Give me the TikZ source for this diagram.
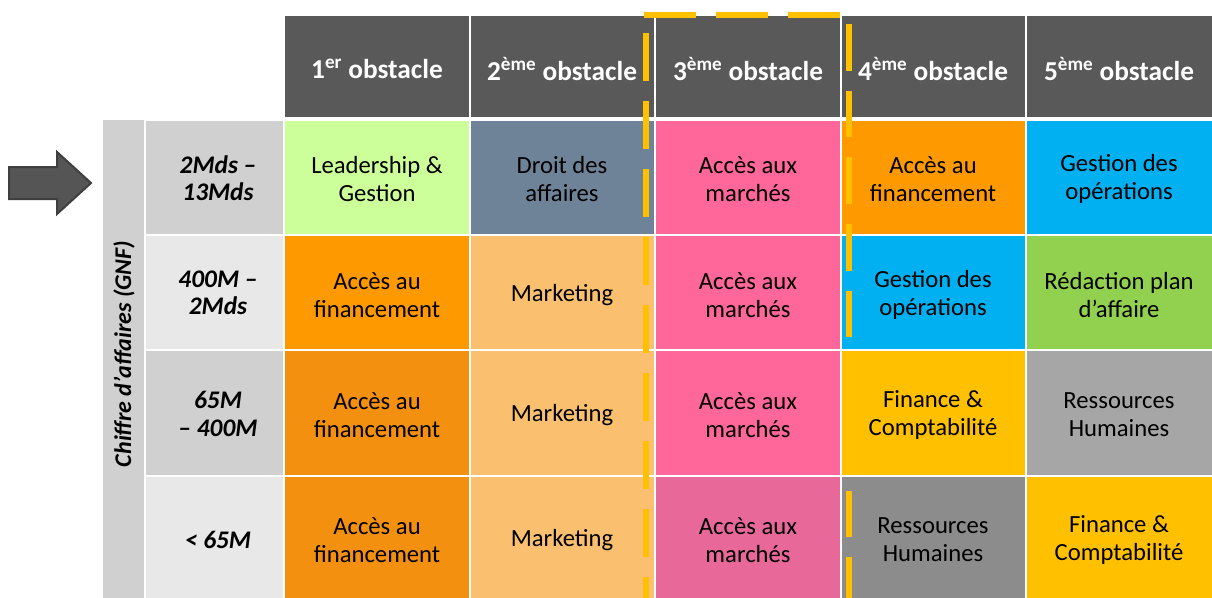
\documentclass[tikz,border=0pt]{standalone}
\usepackage{fontspec}
\setmainfont{Carlito}
\definecolor{hdr}{HTML}{595959}
\definecolor{lgreen}{HTML}{CCFF99}
\definecolor{slate}{HTML}{6F8398}
\definecolor{pink}{HTML}{FF6699}
\definecolor{pinkd}{HTML}{E8689A}
\definecolor{orng}{HTML}{FF9900}
\definecolor{orngd}{HTML}{F49010}
\definecolor{lorng}{HTML}{FAC070}
\definecolor{sky}{HTML}{00B0F0}
\definecolor{grn}{HTML}{92D050}
\definecolor{gold}{HTML}{FFC000}
\definecolor{grayA}{HTML}{A6A6A6}
\definecolor{grayB}{HTML}{8C8C8C}
\definecolor{lblA}{HTML}{D0D0D0}
\definecolor{lblB}{HTML}{E8E8E8}
\definecolor{arrowfill}{HTML}{555555}
\definecolor{arrowline}{HTML}{3F3F3F}
\begin{document}
\begin{tikzpicture}[x=0.75pt,y=-0.75pt,
  cellbox/.style={draw=white,line width=1.5pt},
  bodytxt/.style={align=center,text=black,font=\fontsize{18.5}{21}\selectfont,inner sep=0pt},
  hdrtxt/.style={align=center,text=white,font=\fontsize{20.5}{24}\selectfont\bfseries,inner sep=0pt},
  lbltxt/.style={align=center,text=black,font=\fontsize{19}{20.5}\selectfont\bfseries\itshape,inner sep=0pt},
  dashline/.style={draw=gold,line width=4.5pt}]
\useasboundingbox (0,0) rectangle (1212,597);
\clip (0,0) rectangle (1212,597);
% arrow
\draw[fill=arrowfill,draw=arrowline,line width=1.5pt,line join=miter]
  (9,167) -- (57,167) -- (57,152) -- (91,183) -- (57,214) -- (57,199) -- (9,199) -- cycle;
% header
\foreach \a/\b in {284/470,470/655,655/841,841/1026,1026/1213}
  \filldraw[cellbox,fill=hdr] (\a,15) rectangle (\b,118);
\node[hdrtxt] (h1) at (377,69) {1\textsuperscript{er} obstacle};
\node[hdrtxt] (h2) at (562,69) {2\textsuperscript{ème} obstacle};
\node[hdrtxt] (h3) at (748,69) {3\textsuperscript{ème} obstacle};
\node[hdrtxt] (h4) at (933,69) {4\textsuperscript{ème} obstacle};
\node[hdrtxt] (h5) at (1119,69) {5\textsuperscript{ème} obstacle};
% vertical strip
\fill[lblA] (103,120) rectangle (145,600);
\node[font=\fontsize{18}{20}\selectfont\bfseries\itshape,rotate=90,inner sep=0pt] (ca) at (124,354) {Chiffre d’affaires (GNF)};
% row labels
\filldraw[cellbox,fill=lblA] (145,120) rectangle (284,235);
\filldraw[cellbox,fill=lblB] (145,235) rectangle (284,350);
\filldraw[cellbox,fill=lblA] (145,350) rectangle (284,476);
\filldraw[cellbox,fill=lblB] (145,476) rectangle (284,600);
\node[lbltxt] (l1) at (218,178) {2Mds –\\13Mds};
\node[lbltxt] (l2) at (218,293) {400M –\\2Mds};
\node[lbltxt] (l3) at (218,414) {65M\\– 400M};
\node[lbltxt] (l4) at (218,540) {< 65M};
% row 1
\filldraw[cellbox,fill=lgreen] (284,120) rectangle (470,235);
\filldraw[cellbox,fill=slate] (470,120) rectangle (655,235);
\filldraw[cellbox,fill=pink] (655,120) rectangle (841,235);
\filldraw[cellbox,fill=orng] (841,120) rectangle (1026,235);
\filldraw[cellbox,fill=sky] (1026,120) rectangle (1213,235);
\node[bodytxt] (c11) at (377,179) {Leadership \&\\Gestion};
\node[bodytxt] (c12) at (562,179) {Droit des\\affaires};
\node[bodytxt] (c13) at (748,179) {Accès aux\\marchés};
\node[bodytxt] (c14) at (933,179) {Accès au\\financement};
\node[bodytxt] (c15) at (1119,179) {Gestion des\\opérations};
% row 2
\filldraw[cellbox,fill=orng] (284,235) rectangle (470,350);
\filldraw[cellbox,fill=lorng] (470,235) rectangle (655,350);
\filldraw[cellbox,fill=pink] (655,235) rectangle (841,350);
\filldraw[cellbox,fill=sky] (841,235) rectangle (1026,350);
\filldraw[cellbox,fill=grn] (1026,235) rectangle (1213,350);
\node[bodytxt] (c21) at (377,295) {Accès au\\financement};
\node[bodytxt] (c22) at (562,295) {Marketing};
\node[bodytxt] (c23) at (748,295) {Accès aux\\marchés};
\node[bodytxt] (c24) at (933,295) {Gestion des\\opérations};
\node[bodytxt] (c25) at (1119,295) {Rédaction plan\\d’affaire};
% row 3
\filldraw[cellbox,fill=orngd] (284,350) rectangle (470,476);
\filldraw[cellbox,fill=lorng] (470,350) rectangle (655,476);
\filldraw[cellbox,fill=pink] (655,350) rectangle (841,476);
\filldraw[cellbox,fill=gold] (841,350) rectangle (1026,476);
\filldraw[cellbox,fill=grayA] (1026,350) rectangle (1213,476);
\node[bodytxt] (c31) at (377,415) {Accès au\\financement};
\node[bodytxt] (c32) at (562,415) {Marketing};
\node[bodytxt] (c33) at (748,415) {Accès aux\\marchés};
\node[bodytxt] (c34) at (933,415) {Finance \&\\Comptabilité};
\node[bodytxt] (c35) at (1119,415) {Ressources\\Humaines};
% row 4
\filldraw[cellbox,fill=orngd] (284,476) rectangle (470,600);
\filldraw[cellbox,fill=lorng] (470,476) rectangle (655,600);
\filldraw[cellbox,fill=pinkd] (655,476) rectangle (841,600);
\filldraw[cellbox,fill=grayB] (841,476) rectangle (1026,600);
\filldraw[cellbox,fill=gold] (1026,476) rectangle (1213,600);
\node[bodytxt] (c41) at (377,540) {Accès au\\financement};
\node[bodytxt] (c42) at (562,540) {Marketing};
\node[bodytxt] (c43) at (748,540) {Accès aux\\marchés};
\node[bodytxt] (c44) at (933,540) {Ressources\\Humaines};
\node[bodytxt] (c45) at (1119,540) {Finance \&\\Comptabilité};
% dashed highlight
\coordinate (t1) at (644,15);
\coordinate (t2) at (840,15);
\coordinate (lA) at (646,33);
\coordinate (lB) at (646,600);
\coordinate (rA) at (849,24);
\coordinate (rB) at (849,600);
\draw[dashline,dash pattern=on 39pt off 15pt] (t1) -- (t2);
\draw[dashline,dash pattern=on 36pt off 15pt] (lA) -- (lB);
\draw[dashline,dash pattern=on 35pt off 15pt] (rA) -- (rB);
\end{tikzpicture}
\end{document}
